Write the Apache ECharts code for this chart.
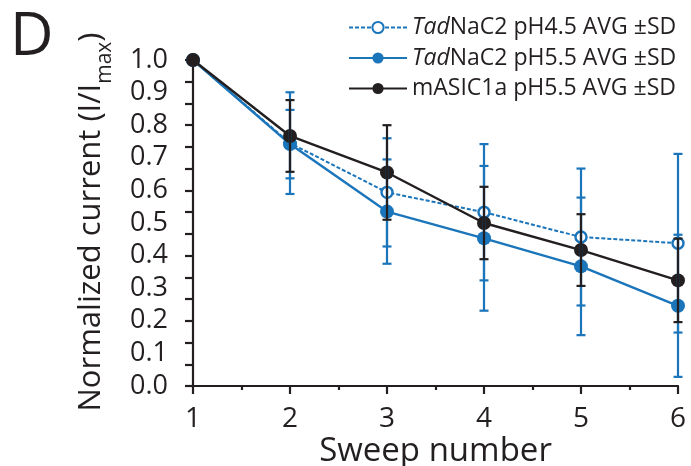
<!DOCTYPE html>
<html>
<head>
<meta charset="utf-8">
<script src="https://cdn.jsdelivr.net/npm/echarts@6/dist/echarts.min.js"></script>
<style>
html,body{margin:0;padding:0;background:#fff;}
#chart{width:691px;height:466px;}
</style>
</head>
<body>
<div id="chart"></div>
<script>
// Data
const sweeps = [1, 2, 3, 4, 5, 6];
const seriesNames = ['TadNaC2 pH4.5 AVG ±SD', 'TadNaC2 pH5.5 AVG ±SD', 'mASIC1a pH5.5 AVG ±SD'];
const tad45Mean = [1.0, 0.745, 0.594, 0.533, 0.457, 0.438];
const tad45SD   = [0,   0.156, 0.166, 0.209, 0.210, 0.274];
const tad55Mean = [1.0, 0.742, 0.535, 0.453, 0.367, 0.246];
const tad55SD   = [0,   0.105, 0.160, 0.222, 0.211, 0.218];
const masicMean = [1.0, 0.767, 0.655, 0.500, 0.417, 0.324];
const masicSD   = [0,   0.110, 0.145, 0.111, 0.110, 0.128];
const yTickLabels = ['0.0','0.1','0.2','0.3','0.4','0.5','0.6','0.7','0.8','0.9','1.0'];

const BLUE = '#1b75bb';
const BLACK = '#231f20';
const FONT = '"Open Sans", "Noto Sans", sans-serif';

function pts(mean) { return sweeps.map((x, i) => [x, mean[i]]); }
function bars(mean, sd) {
  return sweeps.map((x, i) => [x, mean[i] - sd[i], mean[i] + sd[i]]).filter((d, i) => sd[i] > 0);
}
function errSeries(name, mean, sd, color, z) {
  return {
    type: 'custom',
    name: name + ' err',
    xAxisIndex: 0, yAxisIndex: 0,
    z: z,
    silent: true,
    data: bars(mean, sd),
    renderItem: function (params, api) {
      const x = api.value(0);
      const lo = api.coord([x, api.value(1)]);
      const hi = api.coord([x, api.value(2)]);
      const hw = 4.5;
      const st = { stroke: color, lineWidth: 2.2 };
      return {
        type: 'group',
        children: [
          { type: 'line', shape: { x1: lo[0], y1: lo[1], x2: hi[0], y2: hi[1] }, style: st },
          { type: 'line', shape: { x1: lo[0] - hw, y1: lo[1], x2: lo[0] + hw, y2: lo[1] }, style: st },
          { type: 'line', shape: { x1: hi[0] - hw, y1: hi[1], x2: hi[0] + hw, y2: hi[1] }, style: st }
        ]
      };
    }
  };
}

const chart = echarts.init(document.getElementById('chart'), null, { renderer: 'canvas' });
const option = {
  animation: false,
  backgroundColor: '#fff',
  textStyle: { fontFamily: FONT },
  grid: { left: 193, right: 13, top: 60, bottom: 80, containLabel: false, outerBoundsMode: 'none' },
  legend: {
    orient: 'vertical',
    left: 343, top: 11,
    itemWidth: 58, itemHeight: 14,
    itemGap: 7.5,
    data: seriesNames,
    formatter: function (n) {
      return n.indexOf('Tad') === 0 ? '{i|Tad}{t|' + n.slice(3) + '}' : '{t|' + n + '}';
    },
    textStyle: {
      color: BLACK, fontFamily: FONT, fontSize: 23,
      rich: {
        i: { fontStyle: 'italic', fontSize: 23, fontFamily: FONT, color: BLACK, lineHeight: 26 },
        t: { fontSize: 23, fontFamily: FONT, color: BLACK, lineHeight: 26 }
      }
    }
  },
  xAxis: {
    type: 'value', min: 1, max: 6, interval: 1,
    name: 'Sweep number', nameLocation: 'middle', nameGap: 49, nameMoveOverlap: false,
    nameTextStyle: { fontSize: 33, color: BLACK, fontFamily: FONT },
    axisLine: { onZero: false, lineStyle: { color: BLACK, width: 2.2 } },
    axisTick: { inside: false, length: 8, lineStyle: { color: BLACK, width: 2.2 } },
    minorTick: { show: true, splitNumber: 2, length: 4, lineStyle: { color: BLACK, width: 2.2 } },
    axisLabel: { fontSize: 28, color: BLACK, margin: 19, fontFamily: FONT },
    splitLine: { show: false }
  },
  yAxis: [
    {
      type: 'value', min: 0, max: 1, interval: 0.1,
      axisLine: { show: false },
      axisTick: { show: false },
      axisLabel: {
        fontSize: 27, color: BLACK, margin: 25, fontFamily: FONT,
        formatter: function (v) { return yTickLabels[Math.round(v * 10)]; }
      },
      splitLine: { show: false }
    },
    {
      type: 'value', min: 0, max: 15, interval: 1, position: 'left',
      axisLine: { show: true, onZero: false, lineStyle: { color: BLACK, width: 2.2 } },
      axisTick: { show: true, inside: false, length: 8, lineStyle: { color: BLACK, width: 2.2 } },
      axisLabel: { show: false },
      splitLine: { show: false }
    }
  ],
  series: [
    {
      type: 'line', name: seriesNames[0], data: pts(tad45Mean), z: 3,
      symbol: 'circle', symbolSize: 11,
      itemStyle: { color: '#fff', borderColor: BLUE, borderWidth: 2.4 },
      lineStyle: { color: BLUE, width: 2, type: [4, 2] }
    },
    {
      type: 'line', name: seriesNames[1], data: pts(tad55Mean), z: 4,
      symbol: 'circle', symbolSize: 14,
      itemStyle: { color: BLUE },
      lineStyle: { color: BLUE, width: 2.4 }
    },
    {
      type: 'line', name: seriesNames[2], data: pts(masicMean), z: 5,
      symbol: 'circle', symbolSize: 14,
      itemStyle: { color: BLACK },
      lineStyle: { color: BLACK, width: 2.4 }
    },
    errSeries(seriesNames[0], tad45Mean, tad45SD, BLUE, 6),
    errSeries(seriesNames[1], tad55Mean, tad55SD, BLUE, 6),
    errSeries(seriesNames[2], masicMean, masicSD, BLACK, 7)
  ],
  graphic: [
    { type: 'text', left: 10, top: 8, style: { text: 'D', fontSize: 60, fontFamily: FONT, fill: BLACK } },
    {
      type: 'text', x: 96, y: 222, rotation: Math.PI / 2,
      style: {
        text: '{a|Normalized current (I/I}{s|max}{a|)}',
        align: 'center', verticalAlign: 'middle',
        fill: BLACK, fontFamily: FONT,
        rich: {
          a: { fontSize: 31, fontFamily: FONT, fill: BLACK, lineHeight: 40, verticalAlign: 'top' },
          s: { fontSize: 21, fontFamily: FONT, fill: BLACK, lineHeight: 40, verticalAlign: 'bottom' }
        }
      }
    }
  ]
};
chart.setOption(option);
</script>
</body>
</html>
